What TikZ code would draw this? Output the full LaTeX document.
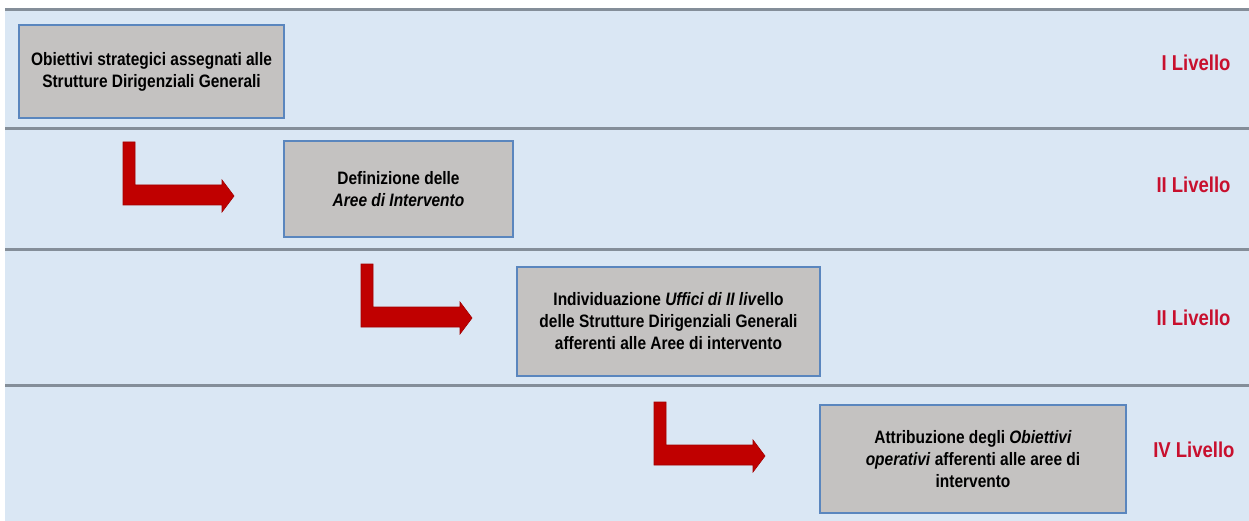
\documentclass[tikz,border=0pt]{standalone}
\usepackage{fontspec}
\setmainfont{Liberation Sans}[FakeStretch=0.86]
\definecolor{bandblue}{HTML}{DAE7F4}
\definecolor{sepgray}{HTML}{848E99}
\definecolor{boxgray}{HTML}{C4C2C1}
\definecolor{boxline}{HTML}{5A86BE}
\definecolor{lvlred}{HTML}{C8102E}
\definecolor{arrred}{HTML}{C00000}
\begin{document}
\begin{tikzpicture}[x=1pt,y=-1pt,
  stepbox/.style={draw=boxline,line width=2pt,fill=boxgray,align=center,
    inner sep=0pt,font=\fontsize{18}{22}\selectfont\bfseries},
  lvl/.style={anchor=east,text=lvlred,font=\fontsize{21.5}{24}\selectfont\bfseries},
  sep/.style={draw=sepgray,line width=3pt},
  bentarrow/.style={fill=arrred,draw=arrred!85!black,line width=0.6pt,line join=miter}]
\useasboundingbox (0,0) rectangle (1249,521);
\fill[white] (0,0) rectangle (1249,521);
\fill[bandblue] (5,9) rectangle (1249,521);
% separators
\draw[sep] (5,9.5) -- (1249,9.5);
\draw[sep] (5,129) -- (1249,129);
\draw[sep] (5,250) -- (1249,250);
\draw[sep] (5,385) -- (1249,385);
% boxes
\node[stepbox,minimum width=265pt,minimum height=93pt] (b1) at (151.5,71.5)
  {Obiettivi strategici assegnati alle\\Strutture Dirigenziali Generali};
\node[stepbox,minimum width=229pt,minimum height=96pt] (b2) at (398.5,189)
  {Definizione delle\\\textit{Aree di Intervento}};
\node[stepbox,minimum width=303pt,minimum height=109pt] (b3) at (668.5,321.5)
  {Individuazione \textit{Uffici di II liv}ello\\delle Strutture Dirigenziali Generali\\afferenti alle Aree di intervento};
\node[stepbox,minimum width=306pt,minimum height=108pt] (b4) at (973,459)
  {Attribuzione degli \textit{Obiettivi}\\\textit{operativi} afferenti alle aree di\\intervento};
% level labels
\node[lvl] (l1) at (1234,63) {I Livello};
\node[lvl] (l2) at (1234,185) {II Livello};
\node[lvl] (l3) at (1234,318) {II Livello};
\node[lvl] (l4) at (1238,450) {IV Livello};
% bent arrows
\foreach \n/\x/\y in {a2/123/142, a3/361/264, a4/654/402}{
  \coordinate (\n) at (\x,\y);
  \fill[bentarrow] (\n) -- ++(12,0) -- ++(0,43) -- ++(87,0) -- ++(0,-5)
    -- ++(12,16) -- ++(-12,16) -- ++(0,-7) -- ++(-99,0) -- cycle;
}
\end{tikzpicture}
\end{document}
